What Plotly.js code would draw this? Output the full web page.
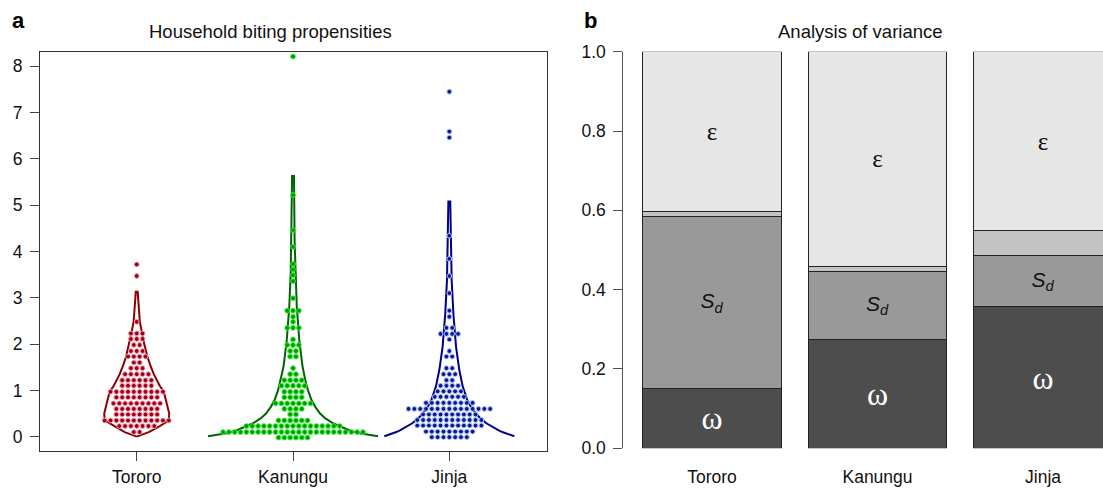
<!DOCTYPE html>
<html><head><meta charset="utf-8">
<script src="https://cdn.plot.ly/plotly-3.0.1.min.js"></script>
<style>body{margin:0;background:#fff}#chart{width:1103px;height:489px}</style>
</head><body><div id="chart"></div>
<script>
// ---------- Panel a: household biting propensities ----------
const groups = ['Tororo', 'Kanungu', 'Jinja'];

// beeswarm rows: propensity level and number of households at that level
const tororoLevels = [0.10, 0.23, 0.35, 0.48, 0.60, 0.72, 0.85, 0.97, 1.10, 1.22, 1.35, 1.48, 1.60, 1.73, 1.85, 1.98, 2.11, 2.23, 2.48, 3.47, 3.72];
const tororoCounts = [2, 7, 12, 8, 8, 9, 8, 10, 6, 6, 5, 3, 2, 4, 3, 2, 3, 3, 1, 1, 1];

const kanunguLevels = [-0.02, 0.10, 0.23, 0.35, 0.48, 0.60, 0.72, 0.85, 0.97, 1.10, 1.22, 1.35, 1.48, 1.73, 1.85, 1.98, 2.10, 2.35, 2.48, 2.59, 2.72, 2.99, 3.36, 3.49, 3.61, 3.73, 4.10, 4.46, 5.22, 8.21];
const kanunguCounts = [6, 25, 17, 6, 2, 4, 7, 4, 4, 5, 4, 2, 1, 2, 2, 3, 1, 3, 1, 1, 3, 1, 1, 1, 1, 1, 1, 1, 1, 1];

const jinjaLevels = [-0.01, 0.11, 0.24, 0.36, 0.48, 0.60, 0.73, 0.86, 0.98, 1.10, 1.22, 1.35, 1.48, 1.73, 1.85, 2.10, 2.22, 2.35, 2.59, 2.72, 3.10, 3.47, 3.84, 4.34, 6.46, 6.59, 7.45];
const jinjaCounts = [7, 9, 12, 12, 10, 15, 9, 6, 5, 4, 2, 3, 2, 2, 1, 1, 4, 2, 1, 1, 1, 1, 1, 1, 1, 1, 1];

// violin outlines: propensity value and half-width of the density curve
const tororoCurveY = [0, 0.10, 0.23, 0.35, 0.50, 0.72, 0.97, 1.10, 1.35, 1.55, 1.73, 2.00, 2.23, 2.48, 2.84, 3.13];
const tororoCurveW = [0, 0.077, 0.147, 0.205, 0.208, 0.192, 0.173, 0.147, 0.109, 0.086, 0.068, 0.048, 0.035, 0.020, 0.012, 0.006];

const kanunguCurveY = [0.01, 0.04, 0.08, 0.14, 0.22, 0.29, 0.40, 0.50, 0.65, 0.79, 1.00, 1.15, 1.51, 2.09, 2.81, 3.53, 4.24, 5.00, 5.63];
const kanunguCurveW = [0.544, 0.480, 0.416, 0.358, 0.301, 0.256, 0.205, 0.173, 0.141, 0.118, 0.096, 0.083, 0.061, 0.040, 0.024, 0.015, 0.010, 0.008, 0.006];

const jinjaCurveY = [0.01, 0.05, 0.10, 0.14, 0.22, 0.29, 0.40, 0.50, 0.65, 0.79, 1.08, 1.44, 1.94, 2.66, 3.38, 4.10, 5.08];
const jinjaCurveW = [0.416, 0.377, 0.339, 0.313, 0.269, 0.237, 0.198, 0.170, 0.138, 0.115, 0.086, 0.064, 0.043, 0.026, 0.015, 0.010, 0.006];

const yTicksA = [0, 1, 2, 3, 4, 5, 6, 7, 8];

// ---------- Panel b: analysis of variance ----------
const omegaShare = [0.151, 0.2755, 0.357];
const sdShare = [0.434, 0.171, 0.129];
const otherShare = [0.011, 0.0126, 0.063];
const epsShare = [0.404, 0.541, 0.451];
const yTicksB = [0, 0.2, 0.4, 0.6, 0.8, 1.0];

// ---------- build ----------
const FONT = 'Liberation Sans, Arial, Helvetica, sans-serif';
const SERIF = 'Liberation Serif, Times New Roman, serif';
const dotStep = 0.0373;

function swarm(center, levels, counts) {
  const xs = [], ys = [];
  levels.forEach((v, k) => {
    const n = counts[k];
    for (let i = 0; i < n; i++) { xs.push(center + (i - (n - 1) / 2) * dotStep); ys.push(v); }
  });
  return {xs, ys};
}
function outline(center, cy, cw) {
  const xs = [], ys = [];
  for (let i = 0; i < cy.length; i++) { xs.push(center + cw[i]); ys.push(cy[i]); }
  for (let i = cy.length - 1; i >= 0; i--) { xs.push(center - cw[i]); ys.push(cy[i]); }
  return {xs, ys};
}

const specs = [
  {c: 1, lv: tororoLevels, ct: tororoCounts, cy: tororoCurveY, cw: tororoCurveW, line: '#8b0000', fill: '#9c0012', edge: '#f4a0b4'},
  {c: 2, lv: kanunguLevels, ct: kanunguCounts, cy: kanunguCurveY, cw: kanunguCurveW, line: '#006400', fill: '#009c00', edge: '#33ee33'},
  {c: 3, lv: jinjaLevels, ct: jinjaCounts, cy: jinjaCurveY, cw: jinjaCurveW, line: '#00008b', fill: '#151590', edge: '#a4c8ff'}
];

const traces = [];
specs.forEach(s => {
  const o = outline(s.c, s.cy, s.cw);
  traces.push({type: 'scatter', mode: 'lines', x: o.xs, y: o.ys, xaxis: 'x', yaxis: 'y',
    line: {color: s.line, width: 2}, hoverinfo: 'skip'});
});
specs.forEach(s => {
  const d = swarm(s.c, s.lv, s.ct);
  traces.push({type: 'scatter', mode: 'markers', x: d.xs, y: d.ys, xaxis: 'x', yaxis: 'y',
    marker: {size: 4.8, color: s.fill, line: {color: s.edge, width: 1}}, cliponaxis: false});
});

const barCommon = {type: 'bar', x: groups, xaxis: 'x2', yaxis: 'y2', width: 0.834, hoverinfo: 'skip'};
const barText = {textposition: 'inside', insidetextanchor: 'middle', constraintext: 'none'};
traces.push(Object.assign({}, barCommon, barText, {y: omegaShare, marker: {color: '#4d4d4d', line: {color: '#222', width: 1}},
  text: groups.map(() => 'ω'), textfont: {family: SERIF, size: 32, color: '#ffffff'}}));
traces.push(Object.assign({}, barCommon, barText, {y: sdShare, marker: {color: '#999999', line: {color: '#222', width: 1}},
  text: groups.map(() => '<i>S<sub>d</sub></i>'), textfont: {family: FONT, size: 21, color: '#111'}}));
traces.push(Object.assign({}, barCommon, {y: otherShare, marker: {color: '#c3c3c3', line: {color: '#222', width: 1}}}));
traces.push(Object.assign({}, barCommon, barText, {y: epsShare, marker: {color: '#e6e6e6', line: {color: '#222', width: 1}},
  text: groups.map(() => 'ε'), textfont: {family: SERIF, size: 25, color: '#111'}}));

const W = 1103, H = 489;
const layout = {
  width: W, height: H, margin: {l: 0, r: 0, t: 0, b: 0},
  paper_bgcolor: '#fff', plot_bgcolor: 'rgba(0,0,0,0)',
  showlegend: false, barmode: 'stack',
  font: {family: FONT, size: 18, color: '#111'},
  xaxis: {domain: [40 / W, 547 / W], range: [0.381, 3.625], tickvals: [1, 2, 3], ticktext: groups,
    ticks: 'outside', ticklen: 9, tickcolor: '#444', showline: true, linecolor: '#333', linewidth: 1, mirror: true,
    showgrid: false, zeroline: false, tickfont: {size: 17.5}, ticklabelstandoff: 1},
  yaxis: {domain: [(H - 451) / H, (H - 51.5) / H], range: [-0.309, 8.319], tickvals: yTicksA,
    ticks: 'outside', ticklen: 9, tickcolor: '#444', showline: true, linecolor: '#333', linewidth: 1, mirror: true,
    showgrid: false, zeroline: false, tickfont: {size: 17.5}, ticklabelstandoff: 4},
  xaxis2: {domain: [623.3 / W, 1], range: [-0.536, 2.3625], type: 'category', anchor: 'y2',
    showline: false, ticks: '', showgrid: false, zeroline: false, tickfont: {size: 17.5}, ticklabelstandoff: 16},
  yaxis2: {domain: [(H - 448.3) / H, (H - 51.7) / H], range: [0, 1], anchor: 'x2', tickvals: yTicksB,
    ticktext: yTicksB.map(v => v.toFixed(1)),
    ticks: 'outside', ticklen: 9, tickcolor: '#555', showline: true, linecolor: '#555', linewidth: 1,
    showgrid: false, zeroline: false, tickfont: {size: 17.5}, ticklabelstandoff: 4},
  annotations: [
    {text: 'Household biting propensities', x: 270 / W, y: (H - 31) / H, xref: 'paper', yref: 'paper',
      xanchor: 'center', yanchor: 'middle', showarrow: false, font: {size: 18.5}},
    {text: 'Analysis of variance', x: 860 / W, y: (H - 31) / H, xref: 'paper', yref: 'paper',
      xanchor: 'center', yanchor: 'middle', showarrow: false, font: {size: 18.5}},
    {text: '<b>a</b>', x: 10 / W, y: (H - 20) / H, xref: 'paper', yref: 'paper',
      xanchor: 'left', yanchor: 'middle', showarrow: false, font: {size: 22, color: '#000'}},
    {text: '<b>b</b>', x: 582 / W, y: (H - 20) / H, xref: 'paper', yref: 'paper',
      xanchor: 'left', yanchor: 'middle', showarrow: false, font: {size: 22, color: '#000'}}
  ]
};

Plotly.newPlot('chart', traces, layout, {staticPlot: true, displayModeBar: false});
</script>
</body></html>
